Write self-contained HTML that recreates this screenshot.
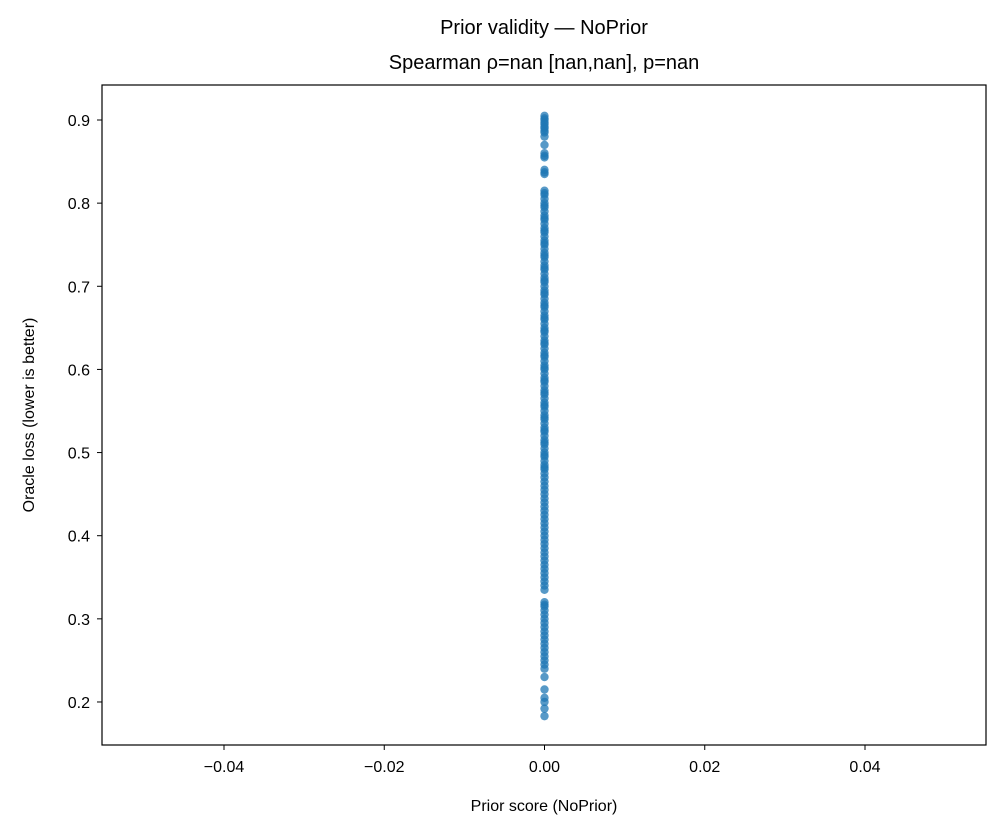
<!DOCTYPE html>
<html><head><meta charset="utf-8"><style>
body{margin:0;background:#fff;}
text{font-family:"Liberation Sans","DejaVu Sans",sans-serif;fill:#000;}
</style></head><body>
<svg id="chart" width="1001" height="835" xmlns="http://www.w3.org/2000/svg">
<text x="544" y="34" font-size="20" text-anchor="middle">Prior validity — NoPrior</text>
<text x="544" y="69" font-size="20" text-anchor="middle">Spearman ρ=nan [nan,nan], p=nan</text>
<g id="marks"></g>
<g id="axes"></g>
<rect x="102" y="85" width="884" height="660" fill="none" stroke="#000" stroke-width="1.2"/>
<text x="544" y="811" font-size="16" text-anchor="middle">Prior score (NoPrior)</text>
<text transform="translate(34,415) rotate(-90)" font-size="16" text-anchor="middle">Oracle loss (lower is better)</text>
</svg>
<script>
const xTicks=[-0.04,-0.02,0.00,0.02,0.04];
const xTickLabels=["−0.04","−0.02","0.00","0.02","0.04"];
const yTicks=[0.2,0.3,0.4,0.5,0.6,0.7,0.8,0.9];
const yTickLabels=["0.2","0.3","0.4","0.5","0.6","0.7","0.8","0.9"];
const priorScores=[0];
const losses=[0.905,0.902,0.9,0.897,0.895,0.892,0.89,0.887,0.885,0.88,0.87,0.86,0.857,0.855,0.84,0.837,0.835,
0.815,0.812,0.81,0.805,0.8,0.797,0.795,0.79,0.785,0.782,0.78,0.775,0.77,0.767,0.765,0.76,0.755,0.752,0.75,0.745,0.74,0.737,0.735,0.73,0.725,0.722,0.72,0.715,0.71,0.707,0.705,0.7,0.695,0.692,0.69,0.685,0.68,0.677,0.675,0.67,0.665,0.662,0.66,0.655,0.65,0.647,0.645,0.64,0.635,0.632,0.63,0.625,0.62,0.617,0.615,0.61,0.605,0.602,0.6,0.595,0.59,0.587,0.585,0.58,0.575,0.572,0.57,0.565,0.56,0.557,0.555,0.55,0.545,0.542,0.54,0.535,0.53,0.527,0.525,0.52,0.515,0.512,0.51,0.505,0.5,0.497,0.495,0.49,0.485,0.482,0.48,0.475,0.47,0.465,0.46,0.455,0.45,0.445,0.44,0.435,0.43,0.425,0.42,0.415,0.41,0.405,0.4,0.395,0.39,0.385,0.38,0.375,0.37,0.365,0.36,0.355,0.35,0.345,0.34,0.335,
0.32,0.317,0.315,0.31,0.305,0.3,0.295,0.29,0.285,0.28,0.275,0.27,0.265,0.26,0.255,0.25,0.245,0.24,0.23,0.215,0.205,0.2,0.192,0.183];
const ns="http://www.w3.org/2000/svg";
function xs(v){return 544.5+v*8012.5;}
function ys(v){return 120+(0.9-v)*831.4;}
const axes=document.getElementById('axes');
xTicks.forEach((t,i)=>{
 const l=document.createElementNS(ns,'line');
 l.setAttribute('x1',xs(t));l.setAttribute('x2',xs(t));l.setAttribute('y1',745);l.setAttribute('y2',750);l.setAttribute('stroke','#000');
 
 
 axes.appendChild(l);
 const tx=document.createElementNS(ns,'text');
 tx.setAttribute('x',xs(t));tx.setAttribute('y',772);tx.setAttribute('font-size','16');tx.setAttribute('text-anchor','middle');
 tx.textContent=xTickLabels[i];
 
 
 axes.appendChild(tx);
});
yTicks.forEach((t,i)=>{
 const l=document.createElementNS(ns,'line');
 l.setAttribute('x1',97);l.setAttribute('x2',102);l.setAttribute('y1',ys(t));l.setAttribute('y2',ys(t));l.setAttribute('stroke','#000');
 
 
 axes.appendChild(l);
 const tx=document.createElementNS(ns,'text');
 tx.setAttribute('x',90);tx.setAttribute('y',ys(t)+6);tx.setAttribute('font-size','16');tx.setAttribute('text-anchor','end');
 tx.textContent=yTickLabels[i];
 
 
 axes.appendChild(tx);
});
const marks=document.getElementById('marks');
losses.forEach((v)=>{
 const c=document.createElementNS(ns,'circle');
 c.setAttribute('cx',xs(priorScores[0]));c.setAttribute('cy',ys(v));c.setAttribute('r',4.2);
 c.setAttribute('fill','#1f77b4');c.setAttribute('fill-opacity','0.75');
 
 
 marks.appendChild(c);
});
</script>
</body></html>
